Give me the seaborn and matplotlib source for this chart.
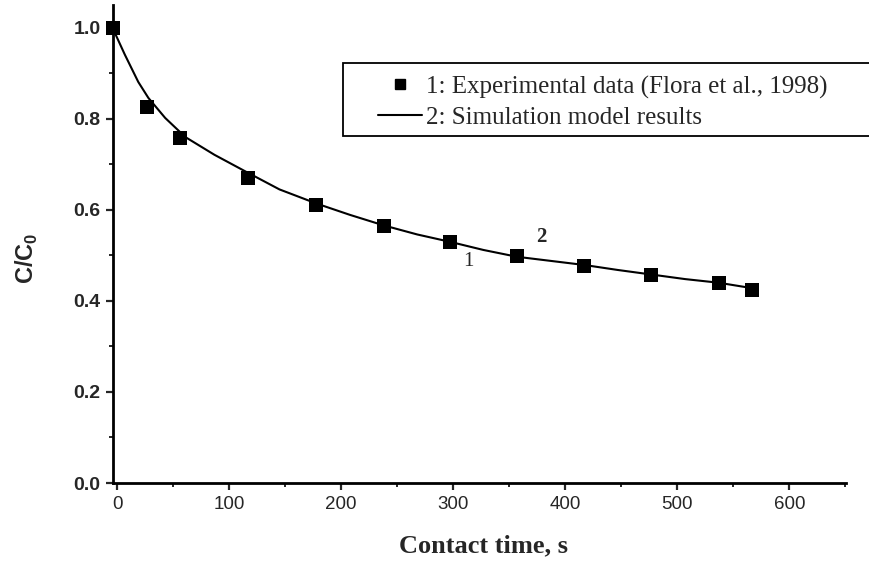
import numpy as np
import pandas as pd
import matplotlib
matplotlib.use("Agg")
import matplotlib.pyplot as plt
from matplotlib.lines import Line2D
from matplotlib.patches import Rectangle
from matplotlib.ticker import MultipleLocator
import seaborn as sns

# Experimental data (squares)
exp_time = [-4, 27, 56, 117, 178, 238, 297, 357, 417, 477, 537, 567]
exp_ratio = [1.0, 0.826, 0.757, 0.670, 0.610, 0.565, 0.530, 0.499, 0.477, 0.458, 0.440, 0.425]

# Simulation model curve
sim_time = [-4, 7, 19, 28, 43, 61, 87, 115, 145, 178, 208, 238, 268, 297,
            327, 357, 387, 417, 447, 477, 507, 537, 567]
sim_ratio = [1.0, 0.941, 0.881, 0.846, 0.802, 0.760, 0.721, 0.684, 0.645, 0.614,
             0.589, 0.566, 0.546, 0.530, 0.512, 0.497, 0.488, 0.479, 0.468,
             0.458, 0.448, 0.440, 0.428]

x_ticks = [0, 100, 200, 300, 400, 500, 600]
y_ticks = [0.0, 0.2, 0.4, 0.6, 0.8, 1.0]
legend_labels = ["1: Experimental data (Flora et al., 1998)", "2: Simulation model results"]

sns.set_style("ticks")
plt.rcParams["font.family"] = ["Liberation Sans", "DejaVu Sans"]
plt.rcParams["mathtext.fontset"] = "custom"
plt.rcParams["mathtext.rm"] = "Liberation Sans"
plt.rcParams["mathtext.bf"] = "Liberation Sans:bold"

df_exp = pd.DataFrame({"t": exp_time, "c": exp_ratio})
df_sim = pd.DataFrame({"t": sim_time, "c": sim_ratio})

fig = plt.figure(figsize=(8.69, 5.61), dpi=100)
ax = fig.add_axes([0.130, 0.139, 0.844, 0.852])

sns.lineplot(data=df_sim, x="t", y="c", ax=ax, color="black", linewidth=1.5,
             sort=False, estimator=None)
sns.scatterplot(data=df_exp, x="t", y="c", ax=ax, marker="s", s=100,
                color="black", edgecolor="black", linewidth=0, zorder=3, clip_on=False)

ax.set_xlim(-3.6, 651)
ax.set_ylim(0, 1.05)
ax.set_xticks(x_ticks)
ax.set_yticks(y_ticks)
ax.set_xticklabels([str(v) for v in x_ticks], fontsize=13.5)
ax.set_yticklabels([f"{v:.1f}" for v in y_ticks], fontsize=14, fontweight="bold")
ax.xaxis.set_minor_locator(MultipleLocator(50))
ax.yaxis.set_minor_locator(MultipleLocator(0.1))
ax.tick_params(axis="both", which="major", direction="out", length=5, width=1.6, pad=4)
ax.tick_params(axis="both", which="minor", direction="out", length=3, width=1.4)

for side in ["top", "right"]:
    ax.spines[side].set_visible(False)
for side in ["left", "bottom"]:
    ax.spines[side].set_linewidth(2.0)
    ax.spines[side].set_color("black")

ax.set_xlabel("Contact time, s", fontsize=19, fontweight="bold",
              family=["Liberation Serif", "DejaVu Serif"])
ax.set_ylabel(r"C/C$_\mathbf{0}$", fontsize=17, fontweight="bold")
ax.xaxis.set_label_coords(0.505, -0.108)
ax.yaxis.set_label_coords(-0.10, 0.47)

ax.text(314, 0.486, "1", fontsize=15, family=["Liberation Serif"], ha="center", va="center")
ax.text(379, 0.540, "2", fontsize=15, family=["Liberation Serif"], fontweight="bold",
        ha="center", va="center")

# legend frame extending to the right edge, as in the reference
ax.add_patch(Rectangle((0.314, 0.726), 0.80, 0.153, transform=ax.transAxes,
                       facecolor="white", edgecolor="black", linewidth=1.3,
                       clip_on=False, zorder=4))

handles = [
    Line2D([], [], linestyle="none", marker="s", markersize=7, color="black"),
    Line2D([], [], linestyle="-", color="black", linewidth=1.5),
]
leg = ax.legend(handles, legend_labels, loc="center left", bbox_to_anchor=(0.362, 0.797),
                borderaxespad=0, borderpad=0, frameon=False,
                prop={"family": "Liberation Serif", "size": 18},
                handlelength=1.75, handletextpad=0.15, labelspacing=0.3)
leg.set_zorder(5)

fig.savefig("out.png", dpi=100)
